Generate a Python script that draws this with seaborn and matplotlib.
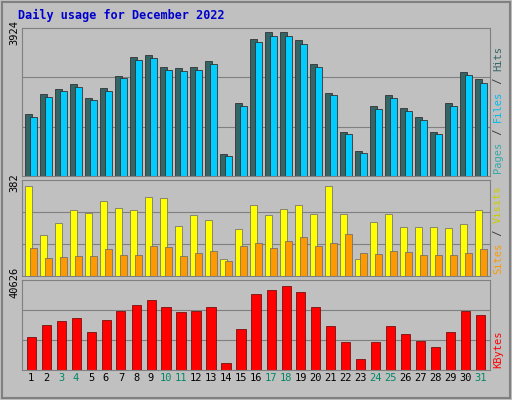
import matplotlib
matplotlib.use("Agg")
import matplotlib.pyplot as plt
import matplotlib.transforms as mtrans
import seaborn as sns
import pandas as pd
import numpy as np

days = [str(d) for d in range(1, 32)]
weekend = ["3", "4", "10", "11", "17", "18", "24", "25", "31"]
hits = [1610, 2160, 2320, 2430, 2080, 2320, 2670, 3180, 3220, 2900, 2860, 2900, 3060, 550, 1920,
        3650, 3810, 3810, 3610, 2980, 2200, 1140, 630, 1840, 2120, 1770, 1530, 1140, 1920, 2750, 2550]
pages = [1680, 2230, 2380, 2500, 2140, 2390, 2740, 3260, 3300, 2980, 2940, 2980, 3140, 600, 2000,
         3750, 3924, 3924, 3720, 3070, 2280, 1200, 680, 1920, 2200, 1850, 1600, 1200, 2000, 2840, 2640]
visits = [367, 168, 218, 271, 260, 306, 279, 271, 325, 321, 206, 248, 229, 69, 191,
          290, 248, 275, 290, 256, 367, 256, 69, 222, 256, 199, 199, 199, 195, 214, 271]
sites = [115, 73, 76, 80, 84, 111, 88, 88, 122, 118, 80, 95, 103, 61, 122,
         134, 115, 143, 160, 122, 134, 172, 95, 92, 103, 99, 88, 88, 88, 95, 111]
kbytes = [15440, 21130, 22750, 23970, 17880, 23160, 27630, 30060, 32500, 29250, 26810, 27630, 29250, 3250, 19090,
          35340, 36970, 39000, 36160, 29250, 20310, 13000, 5280, 13000, 20310, 16660, 13410, 10560, 17880, 27220, 25590]

bg = "#c0c0c0"
fig = plt.figure(figsize=(5.12, 4.0), dpi=100, facecolor=bg)
fig.patches.append(plt.Rectangle((0.004, 0.004), 0.992, 0.992, transform=fig.transFigure,
                                 fill=False, edgecolor="#808080", lw=1.5))
fig.text(0.035, 0.962, "Daily usage for December 2022", color="#0000cc", fontsize=8.5,
         fontweight="bold", family="DejaVu Sans Mono", va="center")

L, W = 22/512, 468/512
ax1 = fig.add_axes([L, 1-176/400, W, 148/400])
ax2 = fig.add_axes([L, 1-276/400, W, 96/400])
ax3 = fig.add_axes([L, 1-370/400, W, 90/400])

def style(ax, top, label):
    ax.set_facecolor(bg)
    ax.set_ylim(0, top * 1.03)
    ax.set_xlim(-0.6, 30.6)
    for f in (1/3, 2/3):
        ax.axhline(top * f * 1.03, color="#808080", lw=0.8, zorder=0)
    ax.set_yticks([top])
    ax.set_yticklabels([label], rotation=90, va="center", fontsize=7.5, family="DejaVu Sans Mono")
    ax.tick_params(length=0, pad=2)
    ax.set_xlabel(""); ax.set_ylabel("")
    leg = ax.get_legend()
    if leg: leg.remove()
    for s in ax.spines.values():
        s.set_color("#808080")

df1 = pd.DataFrame({"day": days * 2, "v": pages + hits, "s": ["Pages"] * 31 + ["Hits"] * 31})
sns.barplot(data=df1, x="day", y="v", hue="s", palette=["#336666", "#00ccff"], width=0.7,
            gap=-0.4, edgecolor="#333333", linewidth=0.6, saturation=1, ax=ax1)
style(ax1, 3924, "3924")
df2 = pd.DataFrame({"day": days * 2, "v": visits + sites, "s": ["Visits"] * 31 + ["Sites"] * 31})
sns.barplot(data=df2, x="day", y="v", hue="s", palette=["#ffff00", "#ff9900"], width=0.7,
            gap=-0.4, edgecolor="#666666", linewidth=0.5, saturation=1, ax=ax2)
style(ax2, 382, "382")
sns.barplot(x=days, y=kbytes, color="#ff0000", width=0.6, edgecolor="#660000", linewidth=0.5,
            saturation=1, ax=ax3)
style(ax3, 40626, "40626")

for ax in (ax1, ax2):
    ax.set_xticks([])
ax3.set_xticks(range(31))
ax3.set_xticklabels(days, fontsize=7.5, family="DejaVu Sans Mono")
for t in ax3.get_xticklabels():
    t.set_color("#008866" if t.get_text() in weekend else "black")

def side(ax, parts):
    n = 0
    for txt, col in parts:
        tr = mtrans.offset_copy(ax.transAxes, fig=fig, x=0, y=n * 4.6, units="points")
        ax.text(1.006, 0.02, txt, transform=tr, rotation=90, color=col,
                fontsize=7.5, family="DejaVu Sans Mono", va="bottom", ha="left")
        n += len(txt)

side(ax1, [("Pages", "#33aaaa"), (" / ", "#333333"), ("Files", "#00bbee"), (" / ", "#333333"), ("Hits", "#336666")])
side(ax2, [("Sites", "#ff9900"), (" / ", "#333333"), ("Visits", "#cccc00")])
side(ax3, [("KBytes", "#ff0000")])

fig.savefig("out.png", dpi=100, facecolor=bg)
